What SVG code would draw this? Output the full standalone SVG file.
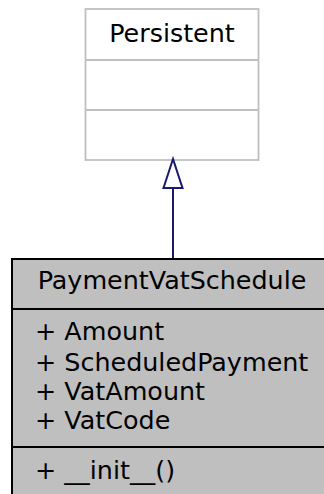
<svg xmlns="http://www.w3.org/2000/svg" width="324" height="494" viewBox="0 0 324 494">
<style>
text{font-family:"DejaVu Sans","Liberation Sans",sans-serif;font-size:25.4px;fill:#000}
.mid{text-anchor:middle}
.base{fill:#fff;stroke:#bfbfbf;stroke-width:1.8}
.cls{fill:#bfbfbf;stroke:#000;stroke-width:2}
.edge{stroke:#191970;stroke-width:2;fill:none}
</style>
<rect width="324" height="494" fill="#fff"/>
<g id="Persistent">
<rect class="base" x="85.5" y="9" width="173" height="151"/>
<line class="base" x1="85.5" y1="60" x2="258.5" y2="60"/>
<line class="base" x1="85.5" y1="110" x2="258.5" y2="110"/>
<text class="mid" x="172" y="42">Persistent</text>
</g>
<g id="connectors">
<line class="edge" x1="173" y1="188" x2="173" y2="259"/>
<polygon class="edge" fill="#fff" points="173,159 163.5,188 182.5,188" style="fill:#fff"/>
</g>
<g id="PaymentVatSchedule">
<rect class="cls" x="12" y="259" width="330" height="260"/>
<line class="cls" x1="12" y1="309" x2="330" y2="309"/>
<line class="cls" x1="12" y1="447" x2="330" y2="447"/>
<text class="mid" x="172" y="289">PaymentVatSchedule</text>
<text x="35" y="340">+ Amount</text>
<text x="35" y="371">+ ScheduledPayment</text>
<text x="35" y="400">+ VatAmount</text>
<text x="35" y="429">+ VatCode</text>
<text x="35" y="479">+ __init__()</text>
</g>
</svg>
